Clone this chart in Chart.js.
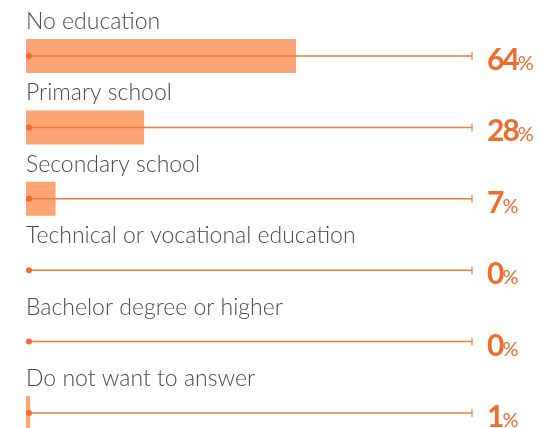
<!DOCTYPE html>
<html>
<head>
    <title>Education level</title>
    <script src="https://cdn.jsdelivr.net/npm/chart.js"></script>
    <style>
        html, body { margin: 0; padding: 0; background: #fff; }
        canvas { display: block; }
    </style>
</head>
<body>
    <canvas id="eduChart" width="552" height="428"></canvas>

    <script>
        // ------------- Data -------------
        const categories = [
            'No education',
            'Primary school',
            'Secondary school',
            'Technical or vocational education',
            'Bachelor degree or higher',
            'Do not want to answer'
        ];
        const shares = [64, 28, 7, 0, 0, 1];
        const shareLabels = ['64', '28', '7', '0', '0', '1'];
        const trackEnd = 105.7; // where the thin line stops (scale units)

        const orange = '#f26b2c';
        const barColor = '#ffa475';
        const lineColor = '#f47a3c';

        // draws the labels, the start dot, the end tick and the % values
        const decorPlugin = {
            id: 'decor',
            afterDatasetsDraw(chart) {
                const ctx = chart.ctx;
                const xs = chart.scales.x;
                const ys = chart.scales.y;
                const x0 = xs.getPixelForValue(0);
                const xEnd = xs.getPixelForValue(trackEnd);

                categories.forEach((label, i) => {
                    const y = ys.getPixelForValue(i);

                    // category label
                    ctx.save();
                    ctx.fillStyle = '#4a4a4a';
                    ctx.font = '300 23px Lato';
                    ctx.textBaseline = 'alphabetic';
                    ctx.fillText(label, x0, y - 27);

                    // start dot
                    ctx.fillStyle = orange;
                    ctx.beginPath();
                    ctx.arc(x0 + 3, y, 3, 0, Math.PI * 2);
                    ctx.fill();

                    // end tick
                    ctx.strokeStyle = lineColor;
                    ctx.lineWidth = 1.2;
                    ctx.beginPath();
                    ctx.moveTo(xEnd, y - 4);
                    ctx.lineTo(xEnd, y + 4);
                    ctx.stroke();

                    // value
                    ctx.fillStyle = orange;
                    ctx.font = 'bold 30px Lato';
                    ctx.letterSpacing = '-2px';
                    const tx = xEnd + 15;
                    ctx.fillText(shareLabels[i], tx, y + 14);
                    const w = ctx.measureText(shareLabels[i]).width;
                    ctx.font = '20px Lato';
                    ctx.letterSpacing = '0px';
                    ctx.fillText('%', tx + w, y + 14);
                    ctx.restore();
                });
            }
        };

        const ctx = document.getElementById('eduChart').getContext('2d');
        const eduChart = new Chart(ctx, {
            type: 'bar',
            data: {
                labels: categories,
                datasets: [
                    {
                        label: 'Track',
                        data: categories.map(() => [0, trackEnd]),
                        backgroundColor: lineColor,
                        barThickness: 1.5,
                        inflateAmount: 0,
                        grouped: false,
                        order: 0,
                        clip: false
                    },
                    {
                        label: 'Share',
                        data: shares,
                        backgroundColor: barColor,
                        barThickness: 34,
                        inflateAmount: 0,
                        grouped: false,
                        order: 1,
                        clip: false
                    }
                ]
            },
            options: {
                indexAxis: 'y',
                responsive: false,
                animation: false,
                layout: {
                    padding: { left: 26, right: 80, top: 56, bottom: 15 }
                },
                scales: {
                    x: { display: false, min: 0, max: trackEnd },
                    y: { display: false, offset: false }
                },
                plugins: {
                    legend: { display: false },
                    tooltip: { enabled: false }
                }
            },
            plugins: [decorPlugin]
        });
    </script>
</body>
</html>
